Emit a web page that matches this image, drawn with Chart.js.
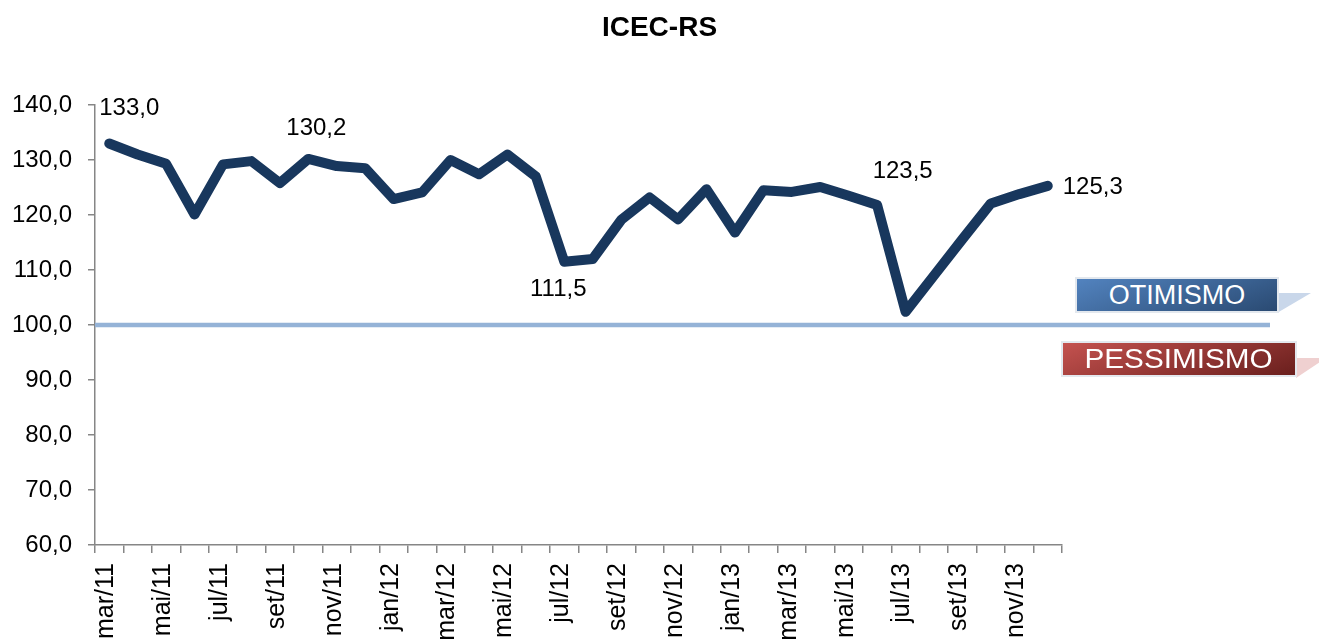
<!DOCTYPE html>
<html lang="pt-BR">
<head>
<meta charset="utf-8">
<title>ICEC-RS</title>
<script src="https://cdn.jsdelivr.net/npm/chart.js@4.4.1/dist/chart.umd.min.js"></script>
<style>
  html, body { margin: 0; padding: 0; background: #fff; overflow: hidden; }
  #wrap { position: relative; width: 1319px; height: 644px; }
  .tag {
    position: absolute;
    color: #fff;
    font: 27px "Liberation Sans", Arial, sans-serif;
    text-align: center;
    box-sizing: border-box;
    border: 2px solid #e3e8ee;
  }
  .tag span { display: inline-block; }
  .shadow { position: absolute; clip-path: polygon(0 0, 100% 0, 0 100%); }
</style>
</head>
<body>
<div id="wrap">
  <canvas id="myChart"></canvas>
  <div class="shadow" style="left:1277px;top:293px;width:34px;height:20px;background:#c9d7ea;"></div>
  <div class="tag" style="left:1075px;top:277px;width:204px;height:36px;line-height:33px;background:linear-gradient(160deg,#5283bf,#2a4a72);"><span>OTIMISMO</span></div>
  <div class="shadow" style="left:1296px;top:358px;width:30px;height:20px;background:#efd0d0;"></div>
  <div class="tag" style="left:1061px;top:341px;width:236px;height:36px;line-height:33px;background:linear-gradient(160deg,#c4524f,#6a1f1d);"><span style="transform:scaleX(1.1);">PESSIMISMO</span></div>
</div>
<script>
const months = [
  "mar/11", "abr/11", "mai/11", "jun/11", "jul/11", "ago/11", "set/11", "out/11", "nov/11", "dez/11",
  "jan/12", "fev/12", "mar/12", "abr/12", "mai/12", "jun/12", "jul/12", "ago/12", "set/12", "out/12", "nov/12", "dez/12",
  "jan/13", "fev/13", "mar/13", "abr/13", "mai/13", "jun/13", "jul/13", "ago/13", "set/13", "out/13", "nov/13", "dez/13",
];

const icec = [
  133.0, 131.0, 129.3, 120.1, 129.2, 129.8, 125.8, 130.2, 128.9, 128.5,
  122.9, 124.1, 130.0, 127.4, 131.0, 127.0, 111.5, 112.0, 119.1, 123.2, 119.2, 124.7,
  116.8, 124.5, 124.2, 125.1, 123.5, 121.8, 102.4, 109.0, 115.6, 122.1, 123.8, 125.3,
];

const yTicks = [60, 70, 80, 90, 100, 110, 120, 130, 140];

// which points get a value label, and where the label sits relative to the point
const labelled = [0, 7, 16, 26, 33];
const labelShift = { 0: [20, -35], 7: [8, -31], 16: [-6, 28], 26: [54, -24], 33: [45, 2] };

const neutral = 100;
const chartTitle = "ICEC-RS";

const fontFamily = '"Liberation Sans", Arial, sans-serif';
const fmt = (v) => v.toFixed(1).replace(".", ",");

/* titulo centrado na pagina inteira, nao so na area do grafico */
const pageTitle = {
  id: "pageTitle",
  afterDraw(chart) {
    const { ctx } = chart;
    ctx.save();
    ctx.fillStyle = "#000";
    ctx.font = "bold 28px " + fontFamily;
    ctx.textAlign = "center";
    ctx.textBaseline = "middle";
    ctx.fillText(chartTitle, chart.width / 2, 28);
    ctx.restore();
  },
};

/* linha dos 100 pontos, passa por baixo da serie e sai do grafico ate as caixas */
const neutralLine = {
  id: "neutralLine",
  beforeDatasetsDraw(chart) {
    const { ctx, chartArea, scales } = chart;
    const y = scales.y.getPixelForValue(neutral);
    ctx.save();
    ctx.strokeStyle = "#95b3d7";
    ctx.lineWidth = 4.5;
    ctx.beginPath();
    ctx.moveTo(chartArea.left, y);
    ctx.lineTo(chartArea.right + 208, y);
    ctx.stroke();
    ctx.restore();
  },
};

const valueLabels = {
  id: "valueLabels",
  afterDatasetsDraw(chart) {
    const { ctx } = chart;
    const pts = chart.getDatasetMeta(0).data;
    ctx.save();
    ctx.fillStyle = "#000";
    ctx.font = "24px " + fontFamily;
    ctx.textAlign = "center";
    ctx.textBaseline = "middle";
    labelled.forEach((i) => {
      const [dx, dy] = labelShift[i];
      ctx.fillText(fmt(icec[i]), pts[i].x + dx, pts[i].y + dy);
    });
    ctx.restore();
  },
};

const ctx = document.getElementById("myChart");

new Chart(ctx, {
  type: "line",
  data: {
    labels: months,
    datasets: [
      {
        label: chartTitle,
        data: icec,
        borderColor: "#18375d",
        borderWidth: 10,
        borderJoinStyle: "round",
        borderCapStyle: "round",
        pointRadius: 0,
        tension: 0,
        clip: false,
      },
    ],
  },
  options: {
    responsive: true,
    maintainAspectRatio: false,
    animation: false,
    layout: { padding: { left: 0, right: 257, top: 105, bottom: 0 } },
    plugins: {
      legend: { display: false },
      tooltip: { enabled: false },
      title: { display: false },
    },
    scales: {
      x: {
        type: "category",
        offset: true,
        afterFit(scale) {
          scale.height = 99;
        },
        border: { color: "#868686", width: 1.5 },
        grid: {
          offset: true,
          drawOnChartArea: false,
          color: "#868686",
          lineWidth: 1.5,
          tickLength: 8,
        },
        ticks: {
          autoSkip: false,
          minRotation: 90,
          maxRotation: 90,
          padding: 10,
          labelOffset: -3,
          color: "#000",
          font: { family: fontFamily, size: 25 },
          callback: function (value, index) {
            return index % 2 === 0 ? this.getLabelForValue(value) : "";
          },
        },
      },
      y: {
        min: 60,
        max: 140,
        afterFit(scale) {
          scale.width = 95;
        },
        afterBuildTicks(scale) {
          scale.ticks = yTicks.map((v) => ({ value: v }));
        },
        border: { color: "#868686", width: 1.5 },
        grid: {
          drawOnChartArea: false,
          color: "#868686",
          lineWidth: 1.5,
          tickLength: 7,
        },
        ticks: {
          padding: 16,
          color: "#000",
          font: { family: fontFamily, size: 24 },
          callback: (v) => fmt(v),
        },
      },
    },
  },
  plugins: [pageTitle, neutralLine, valueLabels],
});
</script>
</body>
</html>
